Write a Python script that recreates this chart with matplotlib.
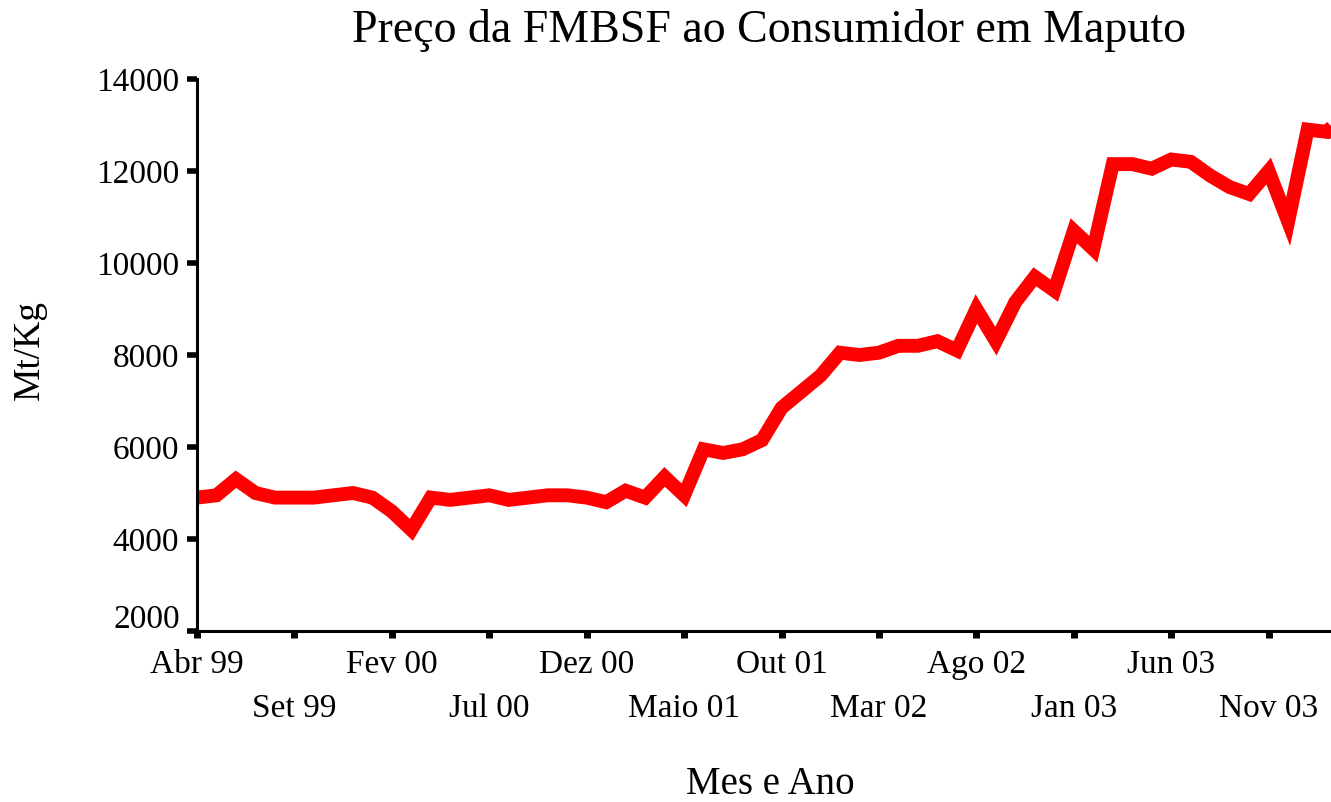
import matplotlib
matplotlib.use("Agg")
import matplotlib.pyplot as plt
from matplotlib.ticker import FixedLocator

# Monthly consumer price (Mt/Kg), starting April 1999
months = list(range(60))
prices = [4900, 4950, 5300, 5000, 4900, 4900, 4900, 4950, 5000, 4900,
          4600, 4200, 4900, 4850, 4900, 4950, 4850, 4900, 4950, 4950,
          4900, 4800, 5050, 4900, 5350, 4950, 5950, 5870, 5950, 6150,
          6850, 7200, 7550, 8050, 8000, 8050, 8200, 8200, 8300, 8100,
          9000, 8300, 9150, 9700, 9400, 10700, 10300, 12150, 12150, 12050,
          12250, 12200, 11900, 11650, 11500, 12000, 10900, 12900, 12850, 13300]

row1_pos = [0, 10, 20, 30, 40, 50]
row1_labels = ["Abr 99", "Fev 00", "Dez 00", "Out 01", "Ago 02", "Jun 03"]
row2_pos = [5, 15, 25, 35, 45, 55]
row2_labels = ["Set 99", "Jul 00", "Maio 01", "Mar 02", "Jan 03", "Nov 03"]
y_ticks = [2000, 4000, 6000, 8000, 10000, 12000, 14000]

title = "Preço da FMBSF ao Consumidor em Maputo"
xlabel = "Mes e Ano"
ylabel = "Mt/Kg"

plt.rcParams['font.family'] = ['Liberation Serif', 'DejaVu Serif']

W, H = 1331, 802
fig = plt.figure(figsize=(W / 100, H / 100), dpi=100)
ax = fig.add_axes([197 / W, 1 - 631 / H, 1 - 197 / W, (631 - 79) / H])

ax.plot(months, prices, color="#ff0000", linewidth=10, solid_joinstyle="miter",
        solid_capstyle="butt")

ax.set_xlim(0, 58.2)
ax.set_ylim(2000, 14000)

for s in ["top", "right"]:
    ax.spines[s].set_visible(False)
for s in ["left", "bottom"]:
    ax.spines[s].set_linewidth(2.2)
    ax.spines[s].set_color("black")

ax.xaxis.set_major_locator(FixedLocator(row1_pos))
ax.set_xticklabels(row1_labels)
ax.xaxis.set_minor_locator(FixedLocator(row2_pos))
ax.set_xticklabels(row2_labels, minor=True)
ax.tick_params(axis="x", which="major", length=5, width=5, pad=8, labelsize=24)
ax.tick_params(axis="x", which="minor", length=5, width=5, pad=40, labelsize=24)

ax.set_yticks(y_ticks)
ax.set_yticklabels(["" if v == y_ticks[0] else str(v) for v in y_ticks])
ax.tick_params(axis="y", length=7, width=4, pad=6, labelsize=24)
# lowest y label sits slightly above its tick in the reference
ax.annotate(str(y_ticks[0]), xy=(0, y_ticks[0]), xycoords=("axes fraction", "data"),
            xytext=(-12, 8), textcoords="offset points", ha="right", va="center",
            fontsize=24)

fig.text(769 / W, 1 - 31 / H, title, ha="center", va="center", fontsize=33)
fig.text(770 / W, 1 - 784 / H, xlabel, ha="center", va="center", fontsize=28)
fig.text(30 / W, 1 - 350 / H, ylabel, ha="center", va="center", rotation=90, fontsize=27)

fig.savefig("out.png", dpi=100)
